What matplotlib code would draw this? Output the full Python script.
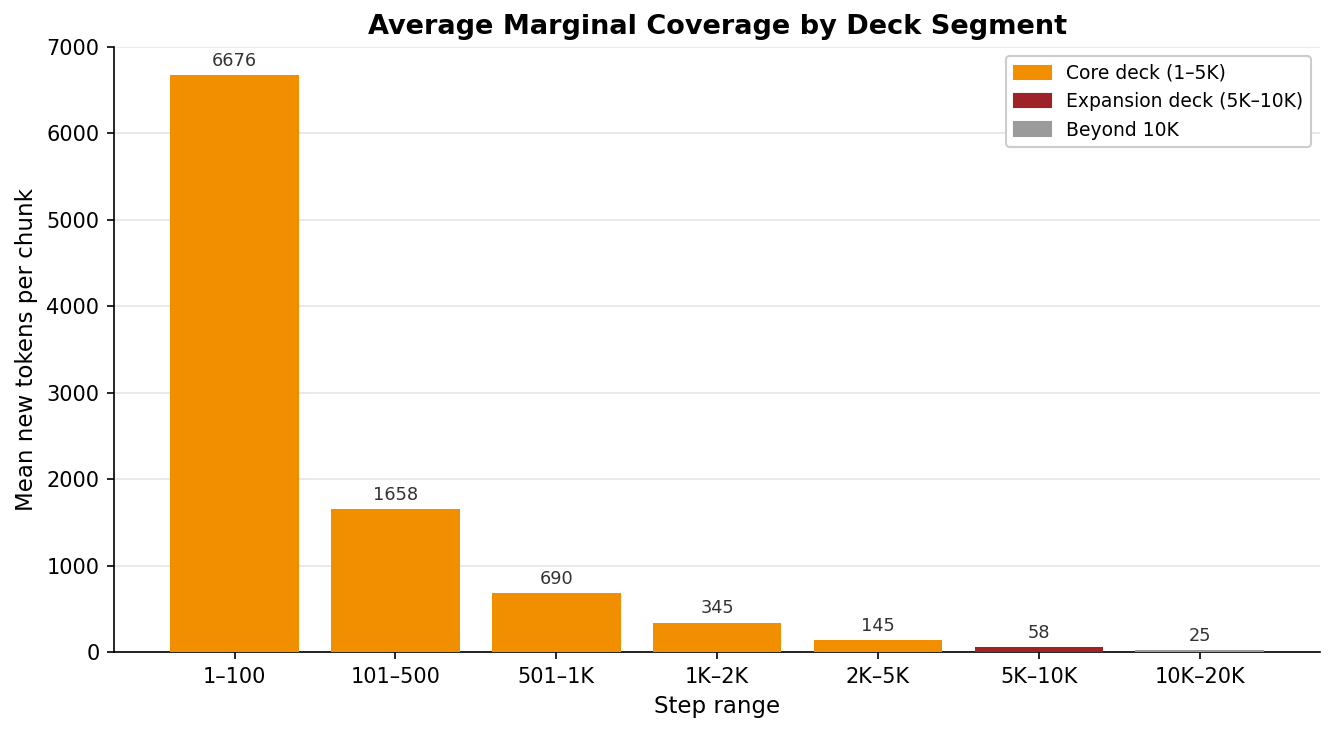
import matplotlib
matplotlib.use("Agg")
import matplotlib.pyplot as plt
from matplotlib.patches import Patch

categories = ["1–100", "101–500", "501–1K", "1K–2K", "2K–5K", "5K–10K", "10K–20K"]
values = [6676, 1658, 690, 345, 145, 58, 25]
segments = ["core", "core", "core", "core", "core", "expansion", "beyond"]
seg_colors = {"core": "#F28F00", "expansion": "#9E2228", "beyond": "#9B9B9B"}
legend_labels = ["Core deck (1–5K)", "Expansion deck (5K–10K)", "Beyond 10K"]

fig, ax = plt.subplots(figsize=(8.9, 4.8867), dpi=150)
fig.subplots_adjust(left=0.0854, right=0.989, top=0.936, bottom=0.110)

x = list(range(len(categories)))
colors = [seg_colors[s] for s in segments]
bars = ax.bar(x, values, width=0.8, color=colors, zorder=3)
for xi, v in zip(x, values):
    ax.text(xi, v + 60, f"{v}", ha="center", va="bottom", fontsize=8.5, color="#333333")

ax.set_xticks(x)
ax.set_xticklabels(categories, fontsize=10)
ax.tick_params(axis="y", labelsize=10)
ax.set_xlim(-0.75, 6.75)
ax.set_ylim(0, 7000)
ax.yaxis.grid(True, color="#e5e5e5", linewidth=0.8, zorder=0)
ax.set_axisbelow(True)
ax.spines["top"].set_visible(False)
ax.spines["right"].set_visible(False)
ax.set_xlabel("Step range", fontsize=11)
ax.set_ylabel("Mean new tokens per chunk", fontsize=11)
ax.set_title("Average Marginal Coverage by Deck Segment", fontsize=13, fontweight="bold")

handles = [Patch(color=seg_colors[k]) for k in ["core", "expansion", "beyond"]]
ax.legend(handles, legend_labels, loc="upper right", fontsize=9, framealpha=1, edgecolor="#cccccc")

fig.savefig("out.png", dpi=150)
